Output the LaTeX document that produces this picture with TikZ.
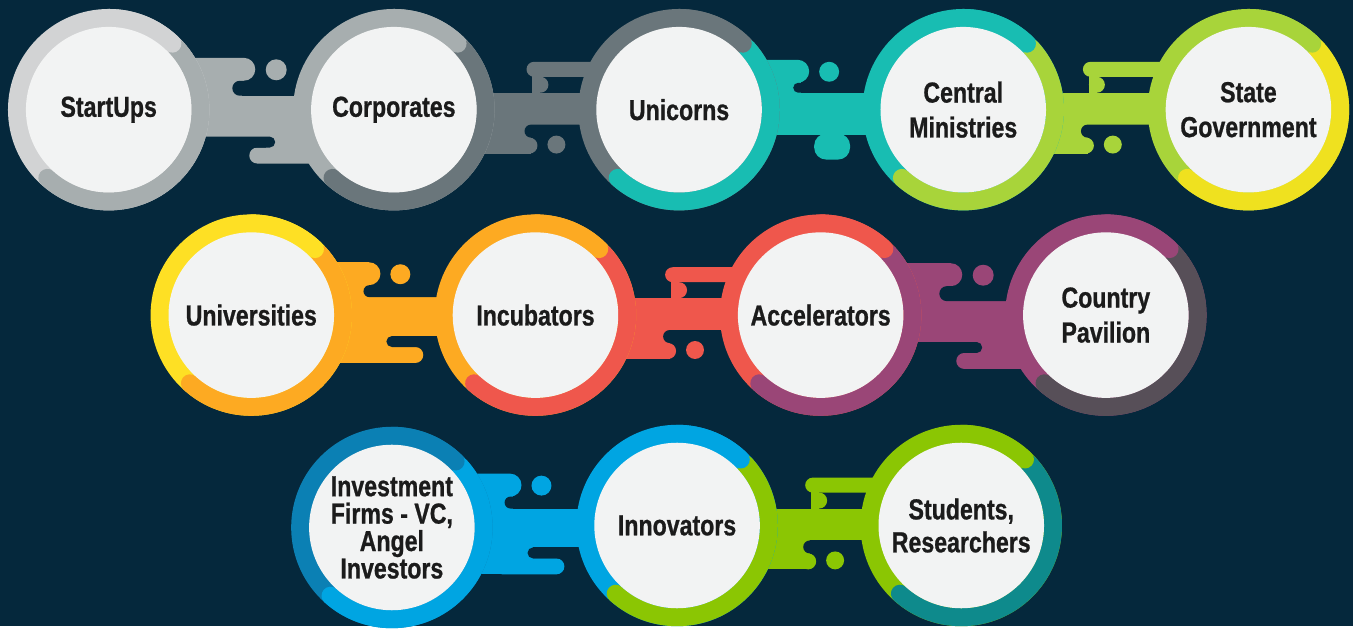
\documentclass[tikz,border=0pt]{standalone}
\usepackage{fontspec}
\newfontfamily\labelfont{Liberation Sans}[FakeStretch=0.8, FakeBold=0.8]
\usetikzlibrary{calc}
\pgfdeclarelayer{back}
\pgfsetlayers{back,main}
\definecolor{bg}{HTML}{05283C}
\definecolor{inner}{HTML}{F2F3F3}
\definecolor{txt}{HTML}{1B1B1B}
\definecolor{cLightGrey}{HTML}{D2D3D4}
\definecolor{cGrey}{HTML}{A7AEAF}
\definecolor{cSlate}{HTML}{6A767B}
\definecolor{cTeal}{HTML}{18BDB2}
\definecolor{cLime}{HTML}{A8D43A}
\definecolor{cYellowA}{HTML}{EFE11F}
\definecolor{cYellowB}{HTML}{FEE024}
\definecolor{cOrange}{HTML}{FDAA22}
\definecolor{cRed}{HTML}{EF574C}
\definecolor{cPurple}{HTML}{9A4677}
\definecolor{cDusk}{HTML}{574F58}
\definecolor{cBlueDark}{HTML}{0B80B4}
\definecolor{cBlue}{HTML}{00A5E2}
\definecolor{cGreen}{HTML}{8BC603}
\definecolor{cSea}{HTML}{0E8A8C}

\tikzset{
  lbl/.style={circle, fill=inner, minimum size=166pt, inner sep=0pt, align=center, text=txt,
    font=\labelfont\bfseries\fontsize{29}{35}\selectfont},
}

% down type connector: #1 left node, #2 right node, #3 colour, #4 shift
\newcommand\dripD[4]{%
  \coordinate (m) at ($(#1.center)!.5!(#2.center)$);
  \fill[#3] ([shift={(-143,-17)}]m) rectangle ([shift={(143,15)}]m);
  \fill[#3, rounded corners=7.5pt] ([shift={({-14+#4},-48)}]m) rectangle ([shift={(150,-33)}]m);
  \fill[#3] ([shift={({-8+#4},-40)}]m) rectangle ([shift={({0+#4},-10)}]m);
  \fill[#3] ([shift={({0+#4},-25)}]m) circle (8);
  \fill[#3] ([shift={(-150,10)}]m) rectangle ([shift={({-9+#4},44)}]m);
  \fill[#3] ([shift={(-40,28)}]m) rectangle ([shift={({-11+#4},44)}]m);
  \fill[#3] ([shift={({-11+#4},36)}]m) circle (8);
  \fill[bg, rounded corners=6.5pt] ([shift={({-16+#4},15)}]m) rectangle ([shift={(150,28)}]m);
  \fill[#3] ([shift={({16+#4},35)}]m) circle (9);
}
% up type A
\newcommand\dripUA[4]{%
  \coordinate (m) at ($(#1.center)!.5!(#2.center)$);
  \fill[#3] ([shift={(-143,-14)}]m) rectangle ([shift={(143,27)}]m);
  \fill[#3, rounded corners=11.5pt] ([shift={(-150,-52)}]m) rectangle ([shift={({1+#4},-29)}]m);
  \fill[#3] ([shift={(-150,-35)}]m) rectangle ([shift={({-12+#4},-10)}]m);
  \fill[bg, rounded corners=7.5pt] ([shift={({-22+#4},-29)}]m) rectangle ([shift={(150,-14)}]m);
  \fill[#3] ([shift={({12+#4},20)}]m) rectangle ([shift={(150,45)}]m);
  \fill[#3, rounded corners=8pt] ([shift={({-5+#4},38)}]m) rectangle ([shift={(150,54)}]m);
  \fill[bg, rounded corners=5.5pt] ([shift={(-150,27)}]m) rectangle ([shift={({21+#4},38)}]m);
  \fill[#3] ([shift={({22+#4},-40)}]m) circle (10.5);
}
% up type B
\newcommand\dripUB[3]{%
  \coordinate (m) at ($(#1.center)!.5!(#2.center)$);
  \fill[#3] ([shift={(-143,-17)}]m) rectangle ([shift={(143,25)}]m);
  \fill[#3, rounded corners=11.5pt] ([shift={(-150,-50)}]m) rectangle ([shift={(-12,-27)}]m);
  \fill[#3] ([shift={(-150,-35)}]m) rectangle ([shift={(-20,-12)}]m);
  \fill[bg, rounded corners=5pt] ([shift={(-28,-27)}]m) rectangle ([shift={(150,-17)}]m);
  \fill[#3, rounded corners=12pt] ([shift={(-7,24)}]m) rectangle ([shift={(29,50)}]m);
  \fill[#3] ([shift={(5,20)}]m) rectangle ([shift={(17,30)}]m);
  \fill[#3] ([shift={(8,-38)}]m) circle (10);
}
% up type C
\newcommand\dripUC[3]{%
  \coordinate (m) at ($(#1.center)!.5!(#2.center)$);
  \fill[#3] ([shift={(-143,-18)}]m) rectangle ([shift={(143,21)}]m);
  \fill[#3, rounded corners=11.5pt] ([shift={(-150,-53)}]m) rectangle ([shift={(-13,-30)}]m);
  \fill[#3] ([shift={(-150,-38)}]m) rectangle ([shift={(-22,-10)}]m);
  \fill[bg, rounded corners=6pt] ([shift={(-30,-30)}]m) rectangle ([shift={(150,-18)}]m);
  \fill[#3] ([shift={(-150,10)}]m) rectangle ([shift={(-1,48)}]m);
  \fill[#3, rounded corners=8pt] ([shift={(-40,32)}]m) rectangle ([shift={(30,48)}]m);
  \fill[bg, rounded corners=5.5pt] ([shift={(-7,21)}]m) rectangle ([shift={(150,32)}]m);
  \fill[#3] ([shift={(7,-41)}]m) circle (10);
}
% ring: #1 node, #2 primary, #3 secondary
\newcommand\ringpair[3]{%
  \fill[#2] (#1.center) circle (101);
  \draw[#3, line width=18pt, line cap=round] (#1.center) ++(132:92) arc[start angle=132, end angle=-42, radius=92];
  \draw[#2, line width=18pt, line cap=round] (#1.center) ++(-90:92) arc[start angle=-90, end angle=-46, radius=92];
}

\begin{document}
\begin{tikzpicture}[x=1pt, y=-1pt]
  \node[lbl] (startups) at (109,110) {StartUps};
  \node[lbl] (corporates) at (395,110) {Corporates};
  \node[lbl] (unicorns) at (681,110) {Unicorns};
  \node[lbl] (central) at (966,110) {Central\\Ministries};
  \node[lbl] (state) at (1252,110) {State\\Government};
  \node[lbl] (universities) at (252,316) {Universities};
  \node[lbl] (incubators) at (537,316) {Incubators};
  \node[lbl] (accelerators) at (823,316) {Accelerators};
  \node[lbl] (country) at (1109,316) {Country\\Pavilion};
  \node[lbl, font=\labelfont\bfseries\fontsize{29}{27.5}\selectfont] (investment) at (393,529) {Investment\\Firms - VC,\\Angel\\Investors};
  \node[lbl] (innovators) at (679,527) {Innovators};
  \node[lbl, font=\labelfont\bfseries\fontsize{29}{33}\selectfont] (students) at (964,527) {Students,\\Researchers};

  \begin{pgfonlayer}{back}
    \fill[bg] (0,0) rectangle (1357,628);
    % row 1
    \dripUA{startups}{corporates}{cGrey}{3}
    \dripD{corporates}{unicorns}{cSlate}{4}
    \dripUB{unicorns}{central}{cTeal}
    \dripD{central}{state}{cLime}{-9}
    % row 2
    \dripUC{universities}{incubators}{cOrange}
    \dripD{incubators}{accelerators}{cRed}{1}
    \dripUA{accelerators}{country}{cPurple}{-2}
    % row 3
    \dripUC{investment}{innovators}{cBlue}
    \dripD{innovators}{students}{cGreen}{0}
    % rings
    \ringpair{startups}{cLightGrey}{cGrey}
    \ringpair{corporates}{cGrey}{cSlate}
    \ringpair{unicorns}{cSlate}{cTeal}
    \ringpair{central}{cTeal}{cLime}
    \ringpair{state}{cLime}{cYellowA}
    \ringpair{universities}{cYellowB}{cOrange}
    \ringpair{incubators}{cOrange}{cRed}
    \ringpair{accelerators}{cRed}{cPurple}
    \ringpair{country}{cPurple}{cDusk}
    \ringpair{investment}{cBlueDark}{cBlue}
    \ringpair{innovators}{cBlue}{cGreen}
    \ringpair{students}{cGreen}{cSea}
  \end{pgfonlayer}
\end{tikzpicture}
\end{document}
